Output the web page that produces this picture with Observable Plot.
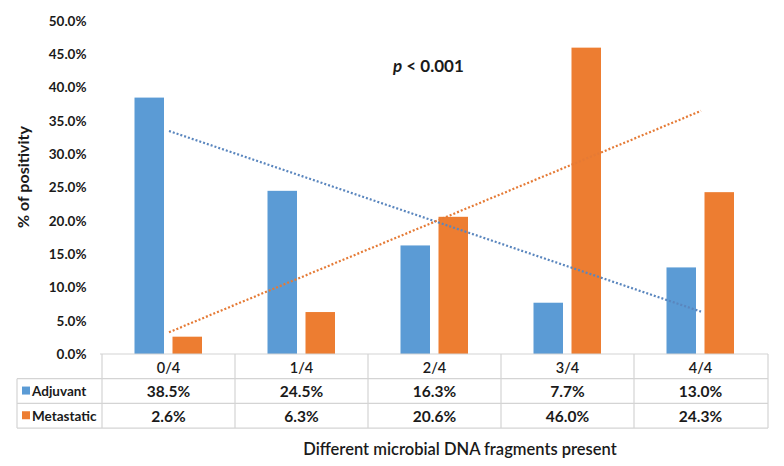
<!DOCTYPE html>
<html>
<head>
<meta charset="utf-8">
<script src="https://cdn.jsdelivr.net/npm/d3@7"></script>
<script src="https://cdn.jsdelivr.net/npm/@observablehq/plot@0.6"></script>
<style>
  html, body { margin: 0; padding: 0; background: #fff; }
  #chart { width: 784px; height: 466px; }
</style>
</head>
<body>
<div id="chart"></div>
<script>
const categories = ["0/4", "1/4", "2/4", "3/4", "4/4"];
const adjuvant = [38.5, 24.5, 16.3, 7.7, 13.0];
const metastatic = [2.6, 6.3, 20.6, 46.0, 24.3];
const seriesNames = ["Adjuvant", "Metastatic"];
const seriesColors = ["#5B9BD5", "#ED7D31"];
const yTicks = [0, 5, 10, 15, 20, 25, 30, 35, 40, 45, 50];
const yTitle = "% of positivity";
const xTitle = "Different microbial DNA fragments present";
const pLabel = ["p", " < 0.001"];

// least-squares linear trend (as in spreadsheet trendline)
function trend(values) {
  const xs = values.map((_, i) => i);
  const mx = d3.mean(xs), my = d3.mean(values);
  const slope = d3.sum(xs, (x, i) => (x - mx) * (values[i] - my)) / d3.sum(xs, x => (x - mx) ** 2);
  return xs.map(x => my + slope * (x - mx));
}

const adjRows = categories.map((c, i) => ({cat: c, val: adjuvant[i]}));
const metRows = categories.map((c, i) => ({cat: c, val: metastatic[i]}));
const adjTrend = trend(adjuvant).map((v, i) => ({cat: categories[i], val: v}));
const metTrend = trend(metastatic).map((v, i) => ({cat: categories[i], val: v}));

const FONT = "Lato, 'Open Sans', sans-serif";

const plot = Plot.plot({
  width: 784,
  height: 466,
  marginLeft: 100,
  marginRight: 16,
  marginTop: 21,
  marginBottom: 112,
  style: {fontFamily: FONT, background: "#fff", color: "#1a1a1a"},
  x: {type: "band", domain: categories, padding: 0, axis: null},
  y: {domain: [0, 50], axis: null},
  marks: [
    Plot.barY(adjRows, {x: "cat", y: "val", fill: seriesColors[0], insetLeft: 32.5, insetRight: 71}),
    Plot.barY(metRows, {x: "cat", y: "val", fill: seriesColors[1], insetLeft: 70.5, insetRight: 33}),
    Plot.line(adjTrend, {x: "cat", y: "val", stroke: "#5A86BE", strokeWidth: 2.2, strokeDasharray: "2 2", strokeLinecap: "butt"}),
    Plot.line(metTrend, {x: "cat", y: "val", stroke: "#E57A35", strokeWidth: 2.2, strokeDasharray: "2 2", strokeLinecap: "butt"}),
    Plot.axisY(yTicks, {
      tickFormat: d => d.toFixed(1) + "%",
      tickSize: 0, tickPadding: 14, fontWeight: "bold", fontSize: 13.5, label: null
    })
  ]
});

const svg = d3.select(plot);
const xs = plot.scale("x");
const bw = xs.bandwidth;
const left = 100, right = 768, y0 = 354, rowH = 24.7;
const r1 = y0 + rowH, r2 = y0 + 2 * rowH, r3 = y0 + 3 * rowH;
const tableLeft = 17;
const g = svg.append("g").attr("stroke", "#d4d4d4").attr("stroke-width", 1.2).attr("fill", "none");
g.append("line").attr("x1", left).attr("x2", right).attr("y1", y0).attr("y2", y0);
[r1, r2, r3].forEach(y => g.append("line").attr("x1", tableLeft).attr("x2", right).attr("y1", y).attr("y2", y));
g.append("line").attr("x1", tableLeft).attr("x2", tableLeft).attr("y1", r1).attr("y2", r3);
categories.forEach(c => {
  const xl = xs.apply(c);
  g.append("line").attr("x1", xl).attr("x2", xl).attr("y1", y0).attr("y2", r3);
});
g.append("line").attr("x1", right).attr("x2", right).attr("y1", y0).attr("y2", r3);

const t = svg.append("g").attr("font-family", FONT).attr("fill", "#1a1a1a").attr("text-anchor", "start");
categories.forEach(c => {
  t.append("text").attr("x", xs.apply(c) + bw / 2).attr("y", y0 + rowH / 2 + 1)
    .attr("text-anchor", "middle").attr("dominant-baseline", "central")
    .attr("font-size", 14.5).attr("font-weight", 600).text(c);
});
[adjuvant, metastatic].forEach((vals, si) => {
  const yc = y0 + rowH * (si + 1) + rowH / 2;
  t.append("rect").attr("x", 22).attr("y", yc - 4.5).attr("width", 8).attr("height", 8).attr("fill", seriesColors[si]);
  t.append("text").attr("x", 32).attr("y", yc).attr("text-anchor", "start").attr("dominant-baseline", "central")
    .attr("font-size", 13.5).attr("font-weight", "bold").text(seriesNames[si]);
  vals.forEach((v, i) => {
    t.append("text").attr("x", xs.apply(categories[i]) + bw / 2).attr("y", yc)
      .attr("text-anchor", "middle").attr("dominant-baseline", "central")
      .attr("font-size", 15.5).attr("font-weight", "bold").text(v.toFixed(1) + "%");
  });
});
t.append("text").attr("x", 460).attr("y", 449).attr("text-anchor", "middle").attr("dominant-baseline", "central")
  .attr("font-size", 16.5).attr("font-weight", 600).text(xTitle);
t.append("text").attr("transform", "translate(22,177) rotate(-90)").attr("text-anchor", "middle")
  .attr("dominant-baseline", "central").attr("font-size", 16).attr("font-weight", "bold").text(yTitle);
const pt = t.append("text").attr("x", 393).attr("y", 65).attr("text-anchor", "start").attr("dominant-baseline", "central")
  .attr("font-size", 17).attr("font-weight", "bold");
pt.append("tspan").attr("font-style", "italic").text(pLabel[0]);
pt.append("tspan").text(pLabel[1]);

document.getElementById("chart").appendChild(plot);
</script>
</body>
</html>
